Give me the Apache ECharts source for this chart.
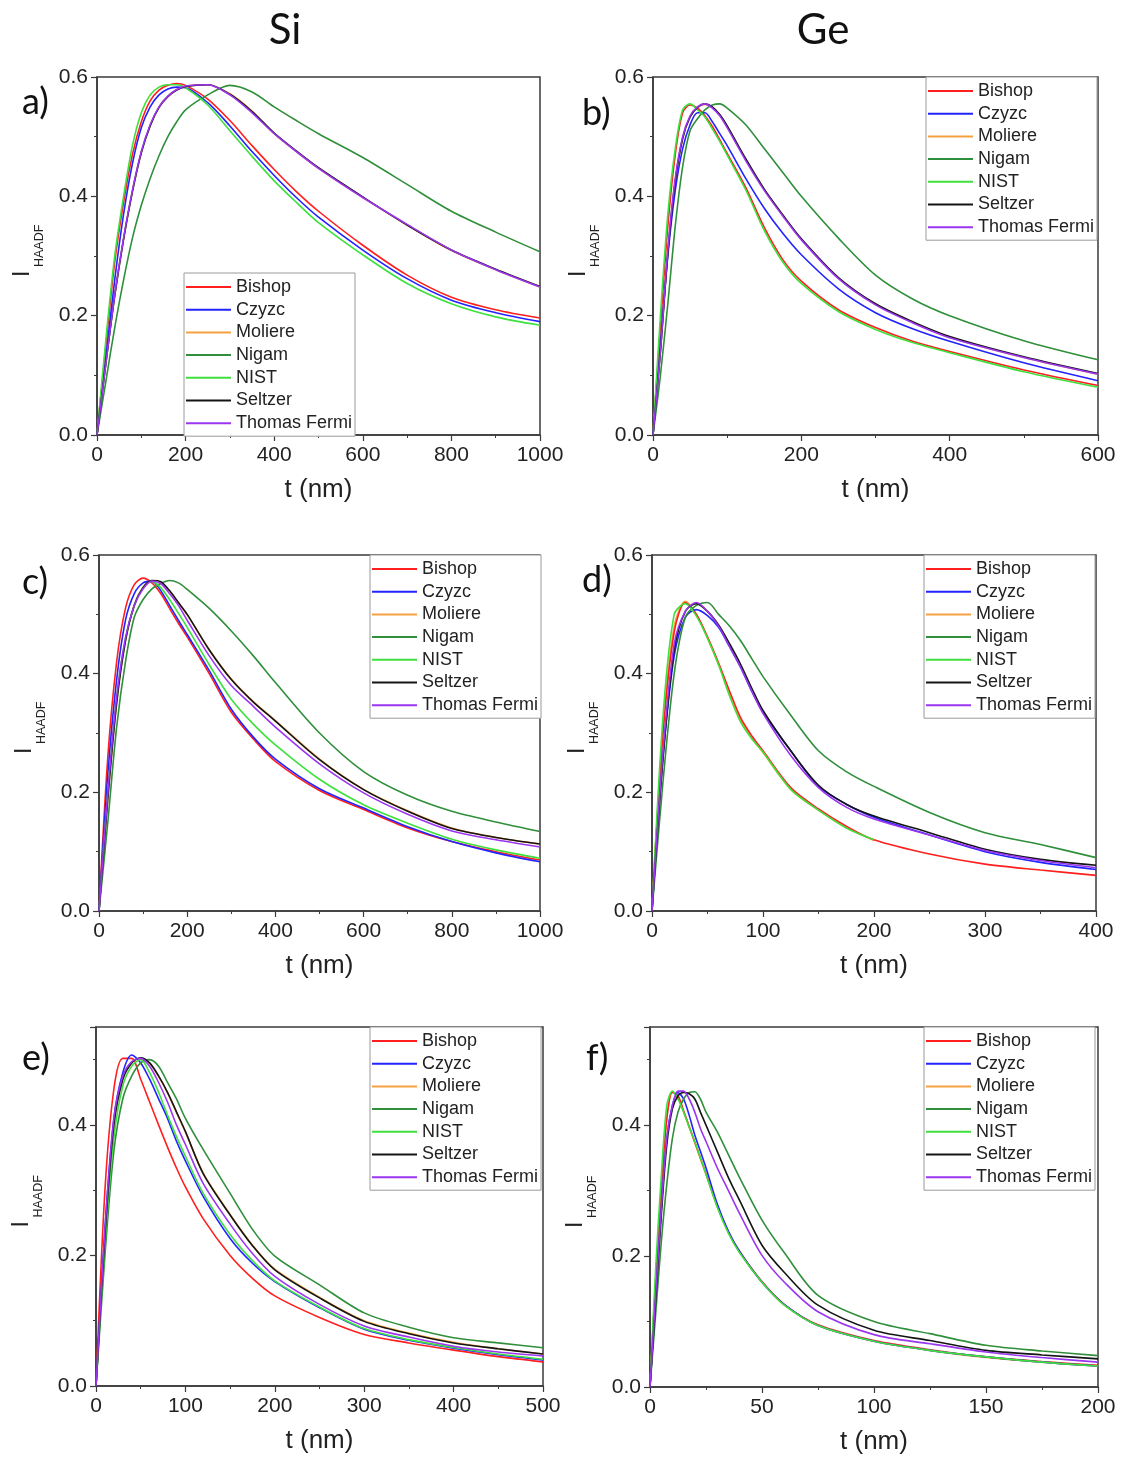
<!DOCTYPE html>
<html>
<head>
<meta charset="utf-8">
<title>HAADF intensity vs thickness, Si and Ge</title>
<script src="https://cdn.jsdelivr.net/npm/echarts@6/dist/echarts.min.js"></script>
<style>
  html, body { margin: 0; padding: 0; background: #fff; }
  #chart { width: 1121px; height: 1458px; }
</style>
</head>
<body>
<div id="chart"></div>
<script>
// scattering models, same order and colours in every panel
const seriesNames = ['Bishop', 'Czyzc', 'Moliere', 'Nigam', 'NIST', 'Seltzer', 'Thomas Fermi'];
const seriesColors = ['#ff1f1f', '#2323ff', '#f5a142', '#2f8f3a', '#3de03d', '#141414', '#9b35f0'];

// a) Si, t in nm
const tA = [0, 20, 40, 60, 80, 100, 120, 140, 160, 180, 200, 250, 300, 350, 400, 450, 500, 600, 700, 800, 900, 1000];
const aBishop = [0, 0.15, 0.29, 0.39, 0.47, 0.525, 0.56, 0.578, 0.586, 0.589, 0.586, 0.563, 0.527, 0.485, 0.445, 0.408, 0.375, 0.318, 0.268, 0.231, 0.21, 0.196];
const aCzyzc = [0, 0.13, 0.26, 0.37, 0.455, 0.515, 0.55, 0.57, 0.58, 0.583, 0.582, 0.557, 0.518, 0.475, 0.435, 0.398, 0.365, 0.31, 0.262, 0.226, 0.205, 0.19];
const aMoliere = [0, 0.121, 0.234, 0.329, 0.409, 0.474, 0.519, 0.55, 0.568, 0.579, 0.585, 0.587, 0.572, 0.543, 0.505, 0.475, 0.447, 0.398, 0.352, 0.309, 0.277, 0.248];
const aNigam = [0, 0.09, 0.18, 0.26, 0.33, 0.385, 0.43, 0.468, 0.5, 0.525, 0.545, 0.57, 0.586, 0.575, 0.55, 0.527, 0.505, 0.465, 0.42, 0.375, 0.34, 0.307];
const aNist = [0, 0.16, 0.3, 0.4, 0.485, 0.54, 0.57, 0.583, 0.587, 0.587, 0.582, 0.553, 0.51, 0.467, 0.426, 0.39, 0.356, 0.302, 0.254, 0.22, 0.198, 0.184];
const aSeltzer = [0, 0.12, 0.233, 0.328, 0.408, 0.473, 0.518, 0.549, 0.567, 0.578, 0.584, 0.587, 0.571, 0.542, 0.506, 0.476, 0.448, 0.399, 0.352, 0.31, 0.278, 0.249];
const aFermi = [0, 0.12, 0.235, 0.33, 0.41, 0.475, 0.52, 0.55, 0.568, 0.579, 0.585, 0.587, 0.57, 0.54, 0.505, 0.475, 0.447, 0.398, 0.353, 0.31, 0.277, 0.248];

// b) Ge
const tB = [0, 10, 20, 30, 40, 50, 60, 70, 80, 90, 100, 125, 150, 175, 200, 250, 300, 350, 400, 500, 600];
const bBishop = [0, 0.18, 0.35, 0.47, 0.54, 0.553, 0.548, 0.535, 0.517, 0.495, 0.472, 0.415, 0.348, 0.294, 0.258, 0.21, 0.18, 0.157, 0.14, 0.109, 0.083];
const bCzyzc = [0, 0.15, 0.3, 0.41, 0.48, 0.52, 0.54, 0.54, 0.525, 0.505, 0.485, 0.43, 0.38, 0.338, 0.302, 0.245, 0.205, 0.178, 0.157, 0.121, 0.091];
const bMoliere = [0, 0.141, 0.306, 0.427, 0.498, 0.534, 0.549, 0.554, 0.549, 0.536, 0.517, 0.462, 0.411, 0.368, 0.328, 0.263, 0.219, 0.189, 0.164, 0.13, 0.102];
const bNigam = [0, 0.1, 0.22, 0.35, 0.45, 0.51, 0.53, 0.545, 0.553, 0.555, 0.548, 0.52, 0.48, 0.44, 0.4, 0.33, 0.268, 0.228, 0.2, 0.158, 0.126];
const bNist = [0, 0.2, 0.37, 0.48, 0.545, 0.555, 0.545, 0.533, 0.513, 0.492, 0.469, 0.411, 0.343, 0.29, 0.254, 0.207, 0.177, 0.155, 0.138, 0.106, 0.08];
const bSeltzer = [0, 0.14, 0.305, 0.425, 0.497, 0.533, 0.549, 0.555, 0.55, 0.537, 0.518, 0.463, 0.412, 0.369, 0.329, 0.264, 0.22, 0.19, 0.165, 0.131, 0.103];
const bFermi = [0, 0.14, 0.31, 0.43, 0.5, 0.535, 0.55, 0.555, 0.548, 0.535, 0.515, 0.46, 0.41, 0.367, 0.327, 0.262, 0.218, 0.188, 0.163, 0.13, 0.102];

// c) Si
const tC = [0, 20, 40, 60, 80, 100, 120, 140, 160, 180, 200, 250, 300, 350, 400, 500, 600, 700, 800, 900, 1000];
const cBishop = [0, 0.26, 0.42, 0.51, 0.55, 0.561, 0.553, 0.535, 0.51, 0.485, 0.462, 0.4, 0.335, 0.29, 0.252, 0.203, 0.171, 0.14, 0.117, 0.1, 0.086];
const cCzyzc = [0, 0.23, 0.39, 0.49, 0.535, 0.553, 0.556, 0.54, 0.515, 0.49, 0.466, 0.405, 0.34, 0.293, 0.256, 0.206, 0.1735, 0.142, 0.117, 0.098, 0.083];
const cMoliere = [0, 0.19, 0.352, 0.456, 0.516, 0.546, 0.557, 0.554, 0.539, 0.519, 0.499, 0.441, 0.391, 0.353, 0.321, 0.256, 0.205, 0.169, 0.14, 0.124, 0.113];
const cNigam = [0, 0.15, 0.31, 0.42, 0.495, 0.525, 0.543, 0.552, 0.557, 0.553, 0.542, 0.51, 0.472, 0.43, 0.385, 0.3, 0.235, 0.195, 0.168, 0.15, 0.134];
const cNist = [0, 0.2, 0.36, 0.46, 0.515, 0.545, 0.556, 0.545, 0.525, 0.502, 0.478, 0.415, 0.357, 0.315, 0.28, 0.222, 0.179, 0.148, 0.121, 0.103, 0.089];
const cSeltzer = [0, 0.19, 0.35, 0.455, 0.515, 0.545, 0.557, 0.555, 0.54, 0.52, 0.5, 0.44, 0.39, 0.352, 0.32, 0.255, 0.2045, 0.168, 0.139, 0.124, 0.113];
const cFermi = [0, 0.2, 0.36, 0.46, 0.515, 0.543, 0.556, 0.552, 0.535, 0.515, 0.49, 0.43, 0.38, 0.345, 0.31, 0.248, 0.199, 0.163, 0.135, 0.12, 0.108];

// d) Ge  (NIST and Moliere stop at 200 nm)
const tD = [0, 10, 20, 30, 40, 50, 60, 70, 80, 90, 100, 125, 150, 175, 200, 250, 300, 350, 400];
const dBishop = [0, 0.3, 0.47, 0.52, 0.5, 0.462, 0.418, 0.37, 0.325, 0.295, 0.27, 0.208, 0.172, 0.143, 0.12, 0.096, 0.079, 0.069, 0.06];
const dCzyzc = [0, 0.26, 0.43, 0.495, 0.508, 0.498, 0.478, 0.445, 0.41, 0.37, 0.335, 0.27, 0.21, 0.18, 0.158, 0.128, 0.1, 0.082, 0.07];
const dMoliere = [0, 0.31, 0.48, 0.522, 0.5, 0.46, 0.415, 0.366, 0.322, 0.292, 0.267, 0.205, 0.17, 0.141, 0.119];
const dNigam = [0, 0.22, 0.4, 0.495, 0.515, 0.52, 0.5, 0.48, 0.455, 0.425, 0.395, 0.33, 0.27, 0.235, 0.21, 0.166, 0.132, 0.112, 0.09];
const dNist = [0, 0.33, 0.5, 0.518, 0.497, 0.46, 0.415, 0.362, 0.318, 0.29, 0.268, 0.205, 0.17, 0.14, 0.12];
const dSeltzer = [0, 0.26, 0.44, 0.505, 0.518, 0.505, 0.482, 0.45, 0.415, 0.375, 0.338, 0.27, 0.212, 0.18, 0.16, 0.132, 0.104, 0.087, 0.077];
const dFermi = [0, 0.27, 0.45, 0.505, 0.52, 0.505, 0.48, 0.445, 0.41, 0.37, 0.333, 0.262, 0.208, 0.175, 0.155, 0.128, 0.102, 0.085, 0.073];

// e) Si
const tE = [0, 10, 20, 30, 40, 50, 60, 70, 80, 90, 100, 120, 150, 175, 200, 250, 300, 350, 400, 450, 500];
const eBishop = [0, 0.3, 0.455, 0.502, 0.502, 0.47, 0.435, 0.4, 0.366, 0.334, 0.305, 0.256, 0.2, 0.165, 0.138, 0.105, 0.079, 0.066, 0.055, 0.045, 0.037];
const eCzyzc = [0, 0.24, 0.41, 0.48, 0.507, 0.495, 0.47, 0.44, 0.41, 0.375, 0.345, 0.29, 0.226, 0.188, 0.16, 0.12, 0.087, 0.07, 0.058, 0.048, 0.04];
const eMoliere = [0, 0.231, 0.401, 0.471, 0.496, 0.502, 0.494, 0.474, 0.449, 0.419, 0.389, 0.326, 0.263, 0.216, 0.179, 0.136, 0.1, 0.081, 0.067, 0.057, 0.049];
const eNigam = [0, 0.2, 0.36, 0.44, 0.475, 0.495, 0.5, 0.49, 0.465, 0.44, 0.41, 0.362, 0.295, 0.24, 0.199, 0.155, 0.112, 0.09, 0.074, 0.066, 0.0586];
const eNist = [0, 0.22, 0.38, 0.46, 0.49, 0.5, 0.48, 0.45, 0.415, 0.382, 0.352, 0.295, 0.232, 0.192, 0.161, 0.121, 0.088, 0.071, 0.059, 0.049, 0.041];
const eSeltzer = [0, 0.23, 0.4, 0.47, 0.495, 0.503, 0.495, 0.475, 0.45, 0.42, 0.39, 0.325, 0.262, 0.215, 0.178, 0.135, 0.099, 0.08, 0.066, 0.057, 0.049];
const eFermi = [0, 0.24, 0.41, 0.475, 0.497, 0.502, 0.49, 0.465, 0.435, 0.4, 0.37, 0.31, 0.248, 0.203, 0.168, 0.125, 0.092, 0.075, 0.061, 0.052, 0.046];

// f) Ge
const tF = [0, 2.5, 5, 7.5, 10, 12.5, 15, 17.5, 20, 22.5, 25, 30, 35, 40, 50, 60, 75, 100, 125, 150, 175, 200];
const fBishop = [0, 0.16, 0.3, 0.41, 0.45, 0.445, 0.422, 0.398, 0.374, 0.35, 0.326, 0.277, 0.237, 0.207, 0.161, 0.126, 0.095, 0.071, 0.057, 0.046, 0.039, 0.033];
const fCzyzc = [0, 0.14, 0.27, 0.38, 0.43, 0.45, 0.44, 0.415, 0.385, 0.36, 0.335, 0.28, 0.238, 0.207, 0.16, 0.126, 0.094, 0.07, 0.056, 0.046, 0.038, 0.032];
const fMoliere = [0, 0.161, 0.301, 0.411, 0.451, 0.444, 0.421, 0.397, 0.373, 0.349, 0.325, 0.276, 0.236, 0.206, 0.16, 0.125, 0.094, 0.07, 0.056, 0.045, 0.038, 0.032];
const fNigam = [0, 0.11, 0.22, 0.31, 0.38, 0.42, 0.44, 0.45, 0.451, 0.44, 0.42, 0.39, 0.355, 0.32, 0.255, 0.205, 0.14, 0.1, 0.0815, 0.0637, 0.055, 0.048];
const fNist = [0, 0.18, 0.32, 0.43, 0.452, 0.44, 0.42, 0.397, 0.375, 0.35, 0.325, 0.275, 0.235, 0.205, 0.16, 0.125, 0.094, 0.07, 0.056, 0.046, 0.038, 0.032];
const fSeltzer = [0, 0.13, 0.26, 0.37, 0.425, 0.445, 0.45, 0.448, 0.44, 0.42, 0.4, 0.36, 0.32, 0.285, 0.2166, 0.175, 0.125, 0.0866, 0.071, 0.056, 0.049, 0.043];
const fFermi = [0, 0.14, 0.27, 0.38, 0.43, 0.452, 0.452, 0.44, 0.42, 0.395, 0.375, 0.335, 0.3, 0.265, 0.201, 0.16, 0.115, 0.08, 0.066, 0.0535, 0.045, 0.038];

const panels = [
  { t: tA, ys: [aBishop, aCzyzc, aMoliere, aNigam, aNist, aSeltzer, aFermi], xMax: 1000, xStep: 200, yMax: 0.6,
    grid: [97, 77, 443, 358], legend: [184, 273], tag: 'a)', tagPos: [22, 102] },
  { t: tB, ys: [bBishop, bCzyzc, bMoliere, bNigam, bNist, bSeltzer, bFermi], xMax: 600, xStep: 200, yMax: 0.6,
    grid: [653, 77, 445, 358], legend: [926, 77], tag: 'b)', tagPos: [582, 113] },
  { t: tC, ys: [cBishop, cCzyzc, cMoliere, cNigam, cNist, cSeltzer, cFermi], xMax: 1000, xStep: 200, yMax: 0.6,
    grid: [99, 555, 441, 356], legend: [370, 555], tag: 'c)', tagPos: [22, 582] },
  { t: tD, ys: [dBishop, dCzyzc, dMoliere, dNigam, dNist, dSeltzer, dFermi], xMax: 400, xStep: 100, yMax: 0.6,
    grid: [652, 555, 444, 356], legend: [924, 555], tag: 'd)', tagPos: [582, 580] },
  { t: tE, ys: [eBishop, eCzyzc, eMoliere, eNigam, eNist, eSeltzer, eFermi], xMax: 500, xStep: 100, yMax: 0.55,
    grid: [96, 1027, 447, 359], legend: [370, 1027], tag: 'e)', tagPos: [22, 1058] },
  { t: tF, ys: [fBishop, fCzyzc, fMoliere, fNigam, fNist, fSeltzer, fFermi], xMax: 200, xStep: 50, yMax: 0.55,
    grid: [650, 1027, 448, 360], legend: [924, 1027], tag: 'f)', tagPos: [586, 1058] }
];

const axisColor = '#3a3a3a';
const tickFont = 'Liberation Sans, Arial, sans-serif';
const headFont = 'Lato, "Open Sans", sans-serif';

const grids = panels.map(p => ({
  left: p.grid[0], top: p.grid[1], width: p.grid[2], height: p.grid[3],
  show: true, borderColor: axisColor, borderWidth: 1.5, backgroundColor: 'transparent'
}));

const xAxes = panels.map((p, i) => ({
  type: 'value', gridIndex: i, min: 0, max: p.xMax, interval: p.xStep,
  axisLine: { onZero: false, lineStyle: { color: axisColor, width: 1.5 } },
  axisTick: { length: 6, lineStyle: { color: axisColor, width: 1.2 } },
  minorTick: { show: true, splitNumber: 2, length: 3, lineStyle: { color: axisColor } },
  splitLine: { show: false },
  axisLabel: { fontSize: 21, color: '#222', margin: 10, fontFamily: tickFont, formatter: v => String(v) },
  name: 't (nm)', nameLocation: 'middle', nameGap: 42,
  nameTextStyle: { fontSize: 26, color: '#222', fontFamily: tickFont }
}));

const yAxes = panels.map((p, i) => ({
  type: 'value', gridIndex: i, min: 0, max: p.yMax, interval: 0.2,
  axisLine: { onZero: false, lineStyle: { color: axisColor, width: 1.5 } },
  axisTick: { length: 6, lineStyle: { color: axisColor, width: 1.2 } },
  minorTick: { show: p.yMax === 0.6, splitNumber: 2, length: 3, lineStyle: { color: axisColor } },
  splitLine: { show: false },
  axisLabel: {
    fontSize: 21, color: '#222', margin: 9, fontFamily: tickFont,
    formatter: v => (Math.abs(v - 0.55) < 1e-6 ? '' : v.toFixed(1))
  }
}));
// short ticks every 0.1 for the panels whose axis ends at 0.55
panels.forEach((p, i) => {
  if (p.yMax !== 0.6) {
    yAxes.push({
      type: 'value', gridIndex: i, min: 0, max: p.yMax, interval: 0.1, position: 'left',
      axisLine: { show: false }, axisLabel: { show: false }, splitLine: { show: false },
      axisTick: { length: 3, lineStyle: { color: axisColor } }
    });
  }
});

const series = [];
panels.forEach((p, i) => {
  seriesNames.forEach((name, j) => {
    const ys = p.ys[j];
    series.push({
      type: 'line', name, xAxisIndex: i, yAxisIndex: i,
      data: ys.map((v, k) => [p.t[k], v]),
      symbol: 'none', silent: true, animation: false,
      smooth: 0.3,
      color: seriesColors[j],
      lineStyle: { width: 1.6, color: seriesColors[j] },
      z: name === 'Moliere' ? 1 : 2
    });
  });
});

const legends = panels.map(p => ({
  data: seriesNames, orient: 'vertical', left: p.legend[0], top: p.legend[1],
  icon: 'rect', itemWidth: 45, itemHeight: 2, itemGap: 4.7, padding: [5, 3, 4, 2],
  borderColor: '#9a9a9a', borderWidth: 1, backgroundColor: '#fff',
  selectedMode: false, z: 10,
  textStyle: { fontSize: 18, color: '#222', fontFamily: tickFont }
}));

const graphics = [
  { type: 'text', x: 285, y: 30, style: { text: 'Si', fontSize: 42, fontFamily: headFont, fill: '#111', align: 'center', verticalAlign: 'middle' } },
  { type: 'text', x: 823, y: 30, style: { text: 'Ge', fontSize: 42, fontFamily: headFont, fill: '#111', align: 'center', verticalAlign: 'middle' } }
];
panels.forEach(p => {
  graphics.push({ type: 'text', x: p.tagPos[0], y: p.tagPos[1],
    style: { text: p.tag, fontSize: 36, fontFamily: headFont, fill: '#111', align: 'left', verticalAlign: 'middle' } });
  // rotated I with HAADF subscript
  const ax = p.grid[0] - 63;
  const ay = p.grid[1] + p.grid[3] / 2 + 21;
  graphics.push({ type: 'text', x: ax, y: ay, rotation: Math.PI / 2,
    style: { text: 'I', fontSize: 23, fontFamily: tickFont, fill: '#222', align: 'left', verticalAlign: 'bottom' } });
  graphics.push({ type: 'text', x: ax + 12, y: ay - 10, rotation: Math.PI / 2,
    style: { text: 'HAADF', fontSize: 12.5, fontFamily: tickFont, fill: '#222', align: 'left', verticalAlign: 'bottom' } });
});

const chart = echarts.init(document.getElementById('chart'));
chart.setOption({
  backgroundColor: '#fff',
  animation: false,
  grid: grids,
  xAxis: xAxes,
  yAxis: yAxes,
  legend: legends,
  series,
  graphic: graphics
});
window.addEventListener('resize', chart.resize);
</script>
</body>
</html>
